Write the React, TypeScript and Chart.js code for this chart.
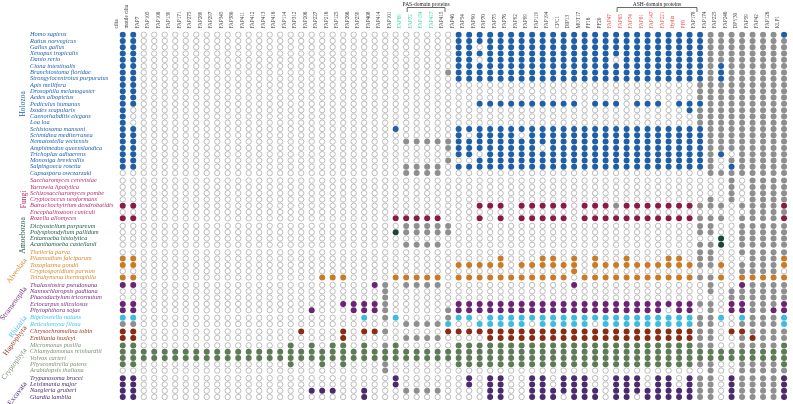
import React, { useEffect, useRef } from 'react';
import { Chart, registerables } from 'chart.js';

Chart.register(...registerables);

// ---------- column labels ----------
const proteins: string[] = [
  'cilia', 'motile cilia',
  'FAP7', 'FAP105', 'FAP106', 'FAP139', 'FAP171', 'FAP275', 'FAP289', 'FAP297', 'FAP345', 'FAP380',
  'FAP411', 'FAP412', 'FAP413', 'FAP416', 'FAP114', 'FAP312', 'FAP206', 'FAP227', 'FAP216', 'FAP125',
  'FAP266', 'FAP259', 'FAP408', 'FAP414', 'FAP101',
  'FAP69', 'FAP72', 'FAP154', 'FAP417', 'FAP415',
  'FAP46', 'FAP54', 'FAP90', 'FAP70', 'FAP75', 'FAP76', 'FAP92', 'FAP99', 'FAP119', 'FAP194',
  'CPC1', 'DIP13', 'MOT17', 'PF16', 'PF20',
  'FAP47', 'FAP65', 'FAP74', 'FAP81', 'FAP147', 'FAP221', 'Hydin', 'PF6',
  'FAP178', 'FAP174', 'FAP225', 'FAP246', 'DPY30', 'FAP59', 'FAP42', 'FAP126', 'KLP1',
];
const pasProteins: string[] = ['FAP69', 'FAP72', 'FAP154', 'FAP417'];
const ashProteins: string[] = ['FAP47', 'FAP65', 'FAP74', 'FAP81', 'FAP147', 'FAP221', 'Hydin', 'PF6'];

// ---------- groups ----------
const groupNames: string[] = ['Holozoa', 'Fungi', 'Amoebozoa', 'Alveolata', 'Stramenopila', 'Rhizaria', 'Haptophyta', 'Cryptophyta', 'Excavata'];
const groupDotColors: string[] = ['#1f5fa6', '#8c1a48', '#16473a', '#c97b27', '#6b2373', '#3cbbe3', '#8a2c14', '#5d7b55', '#4b2b6e'];
const groupTextColors: string[] = ['#2462ab', '#b3306e', '#1f5a48', '#d5892f', '#74307d', '#45c3ea', '#993520', '#7a9170', '#4b2b6e'];
const grayColor = '#8f8f8f';

// ---------- species per group ----------
const holozoa: string[] = [
  'Homo sapiens', 'Rattus norvegicus', 'Gallus gallus', 'Xenopus tropicalis', 'Danio rerio', 'Ciona intestinalis',
  'Branchiostoma floridae', 'Strongylocentrotus purpuratus', 'Apis mellifera', 'Drosophila melanogaster',
  'Aedes albopictus', 'Pediculus humanus', 'Ixodes scapularis', 'Caenorhabditis elegans', 'Loa loa',
  'Schistosoma mansoni', 'Schmidtea mediterranea', 'Nematostella vectensis', 'Amphimedon queenslandica',
  'Trichoplax adhaerens', 'Monosiga brevicollis', 'Salpingoeca rosetta', 'Capsaspora owczarzaki',
];
const fungi: string[] = [
  'Saccharomyces cerevisiae', 'Yarrowia lipolytica', 'Schizosaccharomyces pombe', 'Cryptococcus neoformans',
  'Batrachochytrium dendrobatidis', 'Encephalitozoon cuniculi', 'Rozella allomyces',
];
const amoebozoa: string[] = ['Dictyostelium purpureum', 'Polysphondylium pallidum', 'Entamoeba histolytica', 'Acanthamoeba castellanii'];
const alveolata: string[] = ['Theileria parva', 'Plasmodium falciparum', 'Toxoplasma gondii', 'Cryptosporidium parvum', 'Tetrahymena thermophila'];
const stramenopila: string[] = ['Thalassiosira pseudonana', 'Nannochloropsis gaditana', 'Phaeodactylum tricornutum', 'Ectocarpus siliculosus', 'Phytophthora sojae'];
const rhizaria: string[] = ['Bigelowiella natans', 'Reticulomyxa filosa'];
const haptophyta: string[] = ['Chrysochromulina tobin', 'Emiliania huxleyi'];
const cryptophyta: string[] = ['Micromonas pusilla', 'Chlamydomonas reinhardtii', 'Volvox carteri', 'Physcomitrella patens', 'Arabidopsis thaliana'];
const excavata: string[] = ['Trypanosoma brucei', 'Leishmania major', 'Naegleria gruberi', 'Giardia lamblia'];

// ---------- presence per species ----------
// X = present (group colour), g = grey, . = absent
// segments: cilia/motile(2) | FAP7..FAP414(24) | FAP101(1) | PAS(4) | FAP415(1) | FAP46..PF20(15) | ASH(8) | FAP178(1) | FAP174..FAP126(7) | KLP1(1)
const holozoaCells: string[] = [
  'XX ........................ . .... . XXXXXXXXXXXXXXX XXXXXXXX X ggggggg X',
  'XX ........................ . .... . XXXXXXXXXXXXXXX XXXXXXXX X ggggggg g',
  'XX ........................ . .... . XX.XXXXXXXXXXXX XXXXXXXX X ggggggg g',
  'XX ........................ . .... . XXXXXXXXXXXXXXX XXXXXXXX X ggggggg g',
  'XX ........................ . .... . XX.XXXXXXXXXXXX .XXXXXXX X ggggggg g',
  'XX ........................ . .... . XXXXXXXXXXXXXXX XXXXXXXX X gXggggg g',
  'XX ........................ . .... g XXXXXXXXXXXXXXX XXXXXXXX X gXggggg g',
  'XX ........................ . .... . XXXXXXXXXXXXXXX XXXXXXXX X gXggggg g',
  'XX ........................ . .... . ............... ........ g ggggggg g',
  'XX ........................ . .... . ............... ........ g ggggggg g',
  'XX ........................ . .... . ............... ........ g ggggggg g',
  'XX ........................ . .... . ..XXXXXXXXXX.XX X.XXX.XX X ggggggg g',
  'X. ........................ . .... . ............... .......X g ggggggg g',
  'X. ........................ . .... . ............... ........ g ggggggg g',
  'X. ........................ . .... . ............... ........ g ggggggg g',
  'XX ........................ X .... . XXXXXXXXXXXXXXX XXXXXXXX X ggggggg g',
  'XX ........................ . .... . X.XXXX.XXXXXXXX XXXXXXXX X ggggggg g',
  'XX ........................ . gggg g XXXXXXXXXXXXXXX XXXXXXXX X ggggggg g',
  'XX ........................ . .... g XXXXXXXX.XXXXXX XXXXXXXX X ggggggg g',
  'XX ........................ . .... . XX.XXXXXXXXXXXX XXXXXXXX X gX.gggg g',
  'XX ........................ . .... g ..XXXXXXXXXXXXX XXXXXXXX X g.ggggg g',
  'XX ........................ . gggg . XXXXXXXXXXXXXXX XXXXXXXX X g.Xgggg g',
  '.. ........................ . gggg . ............... ........ . ggggggg g',
];
const fungiCells: string[] = [
  '.. ........................ . .... . ............... ........ . ..g.ggg g',
  '.. ........................ . .... . ............... ........ . ..g.ggg g',
  '.. ........................ . .... . ............... ........ . ..g.ggg g',
  '.. ........................ . .... . ............... ........ . g.g.ggg g',
  'XX ........................ . .... . ..XXX.XXXXX.XXX gXXXXXXX g gg.gggg X',
  '.. ........................ . .... . ............... ........ . ....ggg g',
  'XX ........................ X XXXX . ..X.X.XXXXX.XXX XXXXXXXX g gg.gggg X',
];
const amoebozoaCells: string[] = [
  '.. ........................ . gggg g ............... ........ g g..gggg g',
  '.. ........................ X gggg g ............... ........ g g..gggg g',
  '.. ........................ . .... . ............... ........ . .X.gggg g',
  '.. ........................ . gggg . ............... ........ g gX.gggg g',
];
const alveolataCells: string[] = [
  '.. ........................ . .... . ............... ........ g g..gggg g',
  'XX ........................ . .... . ....X...XX.X.X. .X...XX. g g...ggg X',
  'XX ........................ . .... . XXXXX.XXXXXX.XX XXXXXXXX g gX.gggg X',
  '.. ........................ . .... . ...........X... ........ . ...gggg .',
  'XX .................XXX.... X XXXX . XXXXXXXXXXX.XXX XXXXXXXX g gX.XXXX X',
];
const stramenopilaCells: string[] = [
  'XX ......................Xg . gggg . ...........X... ........ . g..Xggg g',
  '.. .......................g . .... . ............... ........ . g.ggggg g',
  '.. .......................g . .... . ............... ........ . ..ggggg g',
  'XX ...................XXXXg . .... . XXXXXXXXXXXXXXX XXXXXXXX g g.XXggg X',
  'XX ................X...XXXg . .... g XXXXXXXXXXXXXXX XXXXX.XX . g.XXggX X',
];
const rhizariaCells: string[] = [
  'XX .....................X.g X .... g XX.XXXXXXXXXXXX XXXXXXXX g gX.Xggg X',
  'gg ........................ . gggg X ..XXXXX.XXXXX.X XXXXXXXX g g..gggg X',
];
const haptophytaCells: string[] = [
  'XX ...............X...X.XXg . .... X XXXXXXXXXXXXXXX XXXXXXXX g g.XXggg g',
  'XX ...................X.... . gggg . ...XXXXXXXXXXXX XXXXXXXX g g..gXgg g',
];
const cryptophytaCells: string[] = [
  'XX ..............X.X.XX.X.g X .... . XXXXXXXXXXXXXXX XXXXXXXX g g..gggg X',
  'XX XXXXXXXXXXXXXXXXXXXXXXXX X XXXX X XXXXXXXXXXXXXXX XXXXXXXX X XXXXXXX X',
  'XX XXXXXXXXXXXXXXXXXXXXXXXX X XXXX X XXXXXXXXXXXXXXX XXXXXXXX X XXXXXXX X',
  'XX ..............X..X.X...g . .... . XXXXXXXXXXXXXXX XXXXXXXX g g..gggg X',
  '.. .......................g . .... . ............... ........ . g..gggg g',
];
const excavataCells: string[] = [
  'XX ........................ X .... . .X.XX..XX.XXX.. XXX.XX.X g g.Xgggg X',
  'XX ........................ X .... . .X.XX..XX.XXX.. XXX.XX.X g g.Xgggg X',
  'XX ................XXX..X.. . gggg . ...XX..XXXXXXX. XXXXXXXX g g.Xgggg X',
  'XX .....................X.. . .... . ...XX..XXX.XXX. XX.XXXXX g g.Xgggg X',
];

const groupSpecies: string[][] = [holozoa, fungi, amoebozoa, alveolata, stramenopila, rhizaria, haptophyta, cryptophyta, excavata];
const groupCells: string[][] = [holozoaCells, fungiCells, amoebozoaCells, alveolataCells, stramenopilaCells, rhizariaCells, haptophytaCells, cryptophytaCells, excavataCells];

const GROUP_GAP = 0.2; // extra spacing between groups, in row units

export default function App() {
  const canvasRef = useRef<HTMLCanvasElement | null>(null);

  useEffect(() => {
    const canvas = canvasRef.current;
    if (!canvas) return;

    const rowPos: number[] = [];
    const rowNames: string[] = [];
    const rowGroup: number[] = [];
    const groupRange: { start: number; end: number }[] = [];
    let idx = 0;
    groupSpecies.forEach((list, g) => {
      const start = idx + g * GROUP_GAP;
      list.forEach((name) => {
        rowPos.push(idx + g * GROUP_GAP);
        rowNames.push(name);
        rowGroup.push(g);
        idx++;
      });
      groupRange.push({ start, end: idx - 1 + g * GROUP_GAP });
    });
    const yMax = rowPos[rowPos.length - 1] + 0.5;

    const emptyPts: { x: number; y: number }[] = [];
    const grayPts: { x: number; y: number }[] = [];
    const groupPts: { x: number; y: number }[][] = groupNames.map(() => []);
    let r = 0;
    groupCells.forEach((rows, g) => {
      rows.forEach((raw) => {
        const s = raw.replace(/ /g, '');
        for (let c = 0; c < proteins.length; c++) {
          const ch = s[c] || '.';
          const pt = { x: c, y: rowPos[r] };
          if (ch === 'X') groupPts[g].push(pt);
          else if (ch === 'g') grayPts.push(pt);
          else emptyPts.push(pt);
        }
        r++;
      });
    });

    const R = 3.0;
    const datasets: any[] = [
      {
        label: 'absent',
        data: emptyPts,
        pointRadius: R - 0.3,
        pointBackgroundColor: '#ffffff',
        pointBorderColor: '#a0a0a0',
        pointBorderWidth: 0.7,
      },
      {
        label: 'grey',
        data: grayPts,
        pointRadius: R,
        pointBackgroundColor: grayColor,
        pointBorderColor: grayColor,
        pointBorderWidth: 0,
      },
      ...groupNames.map((n, g) => ({
        label: n,
        data: groupPts[g],
        pointRadius: R,
        pointBackgroundColor: groupDotColors[g],
        pointBorderColor: groupDotColors[g],
        pointBorderWidth: 0,
      })),
    ];

    const decorPlugin = {
      id: 'decor',
      afterDraw(chart: any) {
        const ctx = chart.ctx;
        const xs = chart.scales.x;
        const ys = chart.scales.y;
        ctx.save();
        const bracket = (names: string[], label: string) => {
          const i1 = proteins.indexOf(names[0]);
          const i2 = proteins.indexOf(names[names.length - 1]);
          const x1 = xs.getPixelForValue(i1) + 1;
          const x2 = xs.getPixelForValue(i2 + 0.7);
          ctx.strokeStyle = '#444';
          ctx.lineWidth = 0.8;
          ctx.beginPath();
          ctx.moveTo(x1, 12);
          ctx.lineTo(x1, 7.5);
          ctx.lineTo(x2, 7.5);
          ctx.lineTo(x2, 12);
          ctx.stroke();
          ctx.fillStyle = '#222';
          ctx.font = '5.5px "Liberation Serif"';
          ctx.textAlign = 'center';
          ctx.textBaseline = 'alphabetic';
          ctx.fillText(label, (x1 + x2) / 2, 5.5);
        };
        bracket(pasProteins, 'PAS-domain proteins');
        bracket(ashProteins, 'ASH-domain proteins');

        ctx.font = '7.5px "Liberation Serif"';
        const theta = 0.93;
        groupNames.forEach((name, g) => {
          const { start, end } = groupRange[g];
          const yc = ys.getPixelForValue((start + end) / 2);
          ctx.fillStyle = groupTextColors[g];
          ctx.save();
          if (g <= 2) {
            const xPos = g === 0 ? 23 : g === 1 ? 24 : 23;
            ctx.translate(xPos, yc);
            ctx.rotate(-Math.PI / 2);
            ctx.textAlign = 'center';
            ctx.textBaseline = 'middle';
            ctx.fillText(name, 0, 0);
          } else {
            const w = ctx.measureText(name).width;
            const yEnd = yc + 6 - (w / 2) * Math.sin(theta);
            ctx.translate(25.5, yEnd);
            ctx.rotate(-theta);
            ctx.textAlign = 'right';
            ctx.textBaseline = 'middle';
            ctx.fillText(name, 0, 0);
          }
          ctx.restore();
        });
        ctx.restore();
      },
    };

    const chart = new Chart(canvas, {
      type: 'scatter',
      data: { datasets },
      options: {
        animation: false,
        responsive: false,
        maintainAspectRatio: false,
        layout: { padding: { left: 30, right: 0, top: 0, bottom: 3 } },
        plugins: { legend: { display: false }, tooltip: { enabled: false } },
        elements: { point: { pointStyle: 'circle', hoverRadius: 3 } },
        scales: {
          x: {
            type: 'linear',
            position: 'top',
            min: -0.5,
            max: proteins.length - 0.5,
            grid: { display: false, drawTicks: false },
            border: { display: false },
            afterBuildTicks: (scale: any) => {
              scale.ticks = proteins.map((_, i) => ({ value: i }));
            },
            afterFit: (scale: any) => {
              scale.height = 31.5;
            },
            ticks: {
              autoSkip: false,
              minRotation: 90,
              maxRotation: 90,
              padding: 3,
              font: { family: '"Liberation Serif"', size: 5.2 },
              color: (ctx: any) => {
                const name = proteins[ctx.index];
                if (pasProteins.includes(name)) return '#3fd6a6';
                if (ashProteins.includes(name)) return '#e2554f';
                return '#444444';
              },
              callback: (v: any) => proteins[Math.round(v)] ?? '',
            },
          },
          y: {
            type: 'linear',
            position: 'left',
            reverse: true,
            min: -0.5,
            max: yMax,
            grid: { display: false, drawTicks: false },
            border: { display: false },
            afterBuildTicks: (scale: any) => {
              scale.ticks = rowPos.map((v) => ({ value: v }));
            },
            afterFit: (scale: any) => {
              scale.width = 87.5;
            },
            ticks: {
              autoSkip: false,
              crossAlign: 'far',
              padding: 0,
              font: { family: '"Liberation Serif"', size: 6.4, style: 'italic' },
              color: (ctx: any) => groupTextColors[rowGroup[ctx.index]] ?? '#333',
              callback: (_v: any, i: number) => rowNames[i] ?? '',
            },
          },
        },
      },
      plugins: [decorPlugin],
    } as any);

    return () => chart.destroy();
  }, []);

  return (
    <div style={{ position: 'fixed', left: 0, top: 0, width: 793, height: 404, background: '#fff' }}>
      <canvas ref={canvasRef} width={793} height={404} style={{ width: 793, height: 404, display: 'block' }} />
    </div>
  );
}
